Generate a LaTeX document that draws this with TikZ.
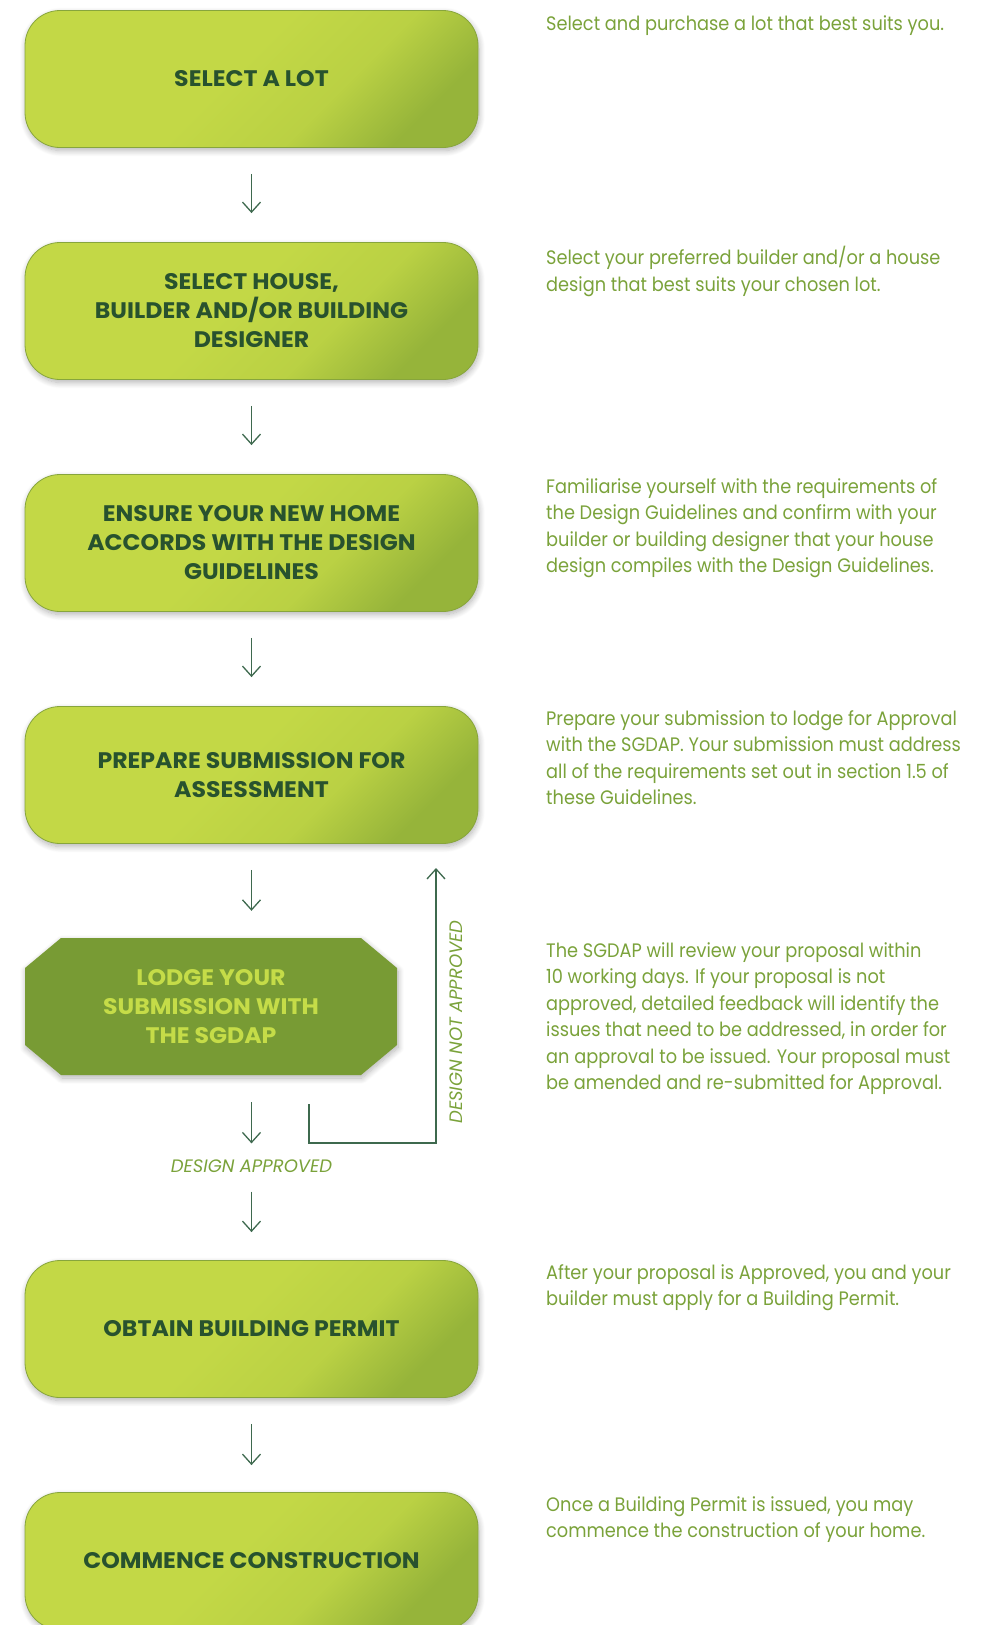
\documentclass[tikz,border=0pt]{standalone}
\usepackage{fontspec}
\setmainfont{Poppins}
\newfontfamily\notefont{Poppins}[FakeStretch=0.91]
\newfontfamily\stagefont{Poppins}[FakeStretch=1.05]
\usepackage{tikz}
\usetikzlibrary{arrows.meta}
\usetikzlibrary{shadows.blur}
\definecolor{limefill}{RGB}{195,216,70}
\definecolor{limedark}{RGB}{150,180,58}
\definecolor{stageline}{RGB}{135,165,60}
\definecolor{stagetext}{RGB}{40,82,46}
\definecolor{octfill}{RGB}{120,155,52}
\definecolor{octtext}{RGB}{197,220,72}
\definecolor{arrowgreen}{RGB}{62,105,78}
\definecolor{notegreen}{RGB}{122,162,58}
\pgfdeclarehorizontalshading{stageshade}{100bp}{color(0bp)=(limefill); color(25bp)=(limefill); color(47bp)=(limefill); color(62bp)=(limefill!80!limedark); color(75bp)=(limedark); color(100bp)=(limedark)}
\tikzstyle{stage}=[draw=stageline, line width=0.8pt, rounded corners=35pt, minimum width=453pt, minimum height=137pt, shading=stageshade, shading angle=-45, align=center, text=stagetext, font=\stagefont\fontsize{22.5}{29}\selectfont\bfseries, blur shadow={shadow xshift=1pt, shadow yshift=-3pt, shadow blur radius=6pt, shadow blur steps=10, shadow opacity=30}]
\tikzstyle{octstage}=[minimum width=372pt, minimum height=137pt, align=center, text=octtext, font=\stagefont\fontsize{22.5}{29}\selectfont\bfseries]
\tikzstyle{note}=[anchor=north west, align=left, inner sep=0pt, text=notegreen, font=\notefont\fontsize{19.5}{26.5}\selectfont]
\tikzstyle{decision}=[inner sep=0pt, text=notegreen, font=\fontsize{18}{22}\selectfont\itshape]
\tikzstyle{flow}=[draw=arrowgreen, line width=1.3pt, -{Straight Barb[length=10pt, width=18pt]}]

\begin{document}
\begin{tikzpicture}[x=1pt, y=-1pt]
        \useasboundingbox (0,0) rectangle (992,1625);
        % steps
        \node[stage] (lot) at (251.5,79) {SELECT A LOT};
        \node[stage] (house) at (251.5,311) {SELECT HOUSE,\\BUILDER AND/OR BUILDING\\DESIGNER};
        \node[stage] (ensure) at (251.5,543) {ENSURE YOUR NEW HOME\\ACCORDS WITH THE DESIGN\\GUIDELINES};
        \node[stage] (prepare) at (251.5,775) {PREPARE SUBMISSION FOR\\ASSESSMENT};
        \fill[octfill, blur shadow={shadow xshift=1pt, shadow yshift=-3pt, shadow blur radius=6pt, shadow blur steps=10, shadow opacity=30}] (61,938) -- (361,938) -- (397,968) -- (397,1045) -- (361,1075) -- (61,1075) -- (25,1045) -- (25,968) -- cycle;
        \node[octstage] (lodge) at (211,1006.5) {LODGE YOUR\\SUBMISSION WITH\\THE SGDAP};
        \node[stage] (permit) at (251.5,1329) {OBTAIN BUILDING PERMIT};
        \node[stage] (build) at (251.5,1561) {COMMENCE CONSTRUCTION};
        % notes
        \node[note] (lotnote) at (546,15) {Select and purchase a lot that best suits you.};
        \node[note] (housenote) at (546,246) {Select your preferred builder and/or a house\\design that best suits your chosen lot.};
        \node[note] (ensurenote) at (546,478) {Familiarise yourself with the requirements of\\the Design Guidelines and confirm with your\\builder or building designer that your house\\design compiles with the Design Guidelines.};
        \node[note] (preparenote) at (546,710) {Prepare your submission to lodge for Approval\\with the SGDAP. Your submission must address\\all of the requirements set out in section 1.5 of\\these Guidelines.};
        \node[note] (lodgenote) at (546,942) {The SGDAP will review your proposal within\\10 working days. If your proposal is not\\approved, detailed feedback will identify the\\issues that need to be addressed, in order for\\an approval to be issued. Your proposal must\\be amended and re-submitted for Approval.};
        \node[note] (permitnote) at (546,1264) {After your proposal is Approved, you and your\\builder must apply for a Building Permit.};
        \node[note] (buildnote) at (546,1496) {Once a Building Permit is issued, you may\\commence the construction of your home.};
        % arrows
        \draw[flow, shorten <=26pt, shorten >=29pt] (lot.south) -- (house.north);
        \draw[flow, shorten <=26pt, shorten >=29pt] (house.south) -- (ensure.north);
        \draw[flow, shorten <=26pt, shorten >=29pt] (ensure.south) -- (prepare.north);
        \draw[flow, shorten <=26pt, shorten >=27pt] (prepare.south) -- (prepare.south |- lodge.north);
        \node[decision] (approved) at (251.5,1166) {DESIGN APPROVED};
        \draw[flow, shorten <=27pt, shorten >=16pt] (lodge.south -| approved) -- (approved.north);
        \draw[flow, shorten <=19pt, shorten >=28pt] (approved.south) -- (permit.north);
        \draw[flow, shorten <=26pt, shorten >=27pt] (permit.south) -- (build.north);
        % not approved loop
        \coordinate (nostart) at (309,1104);
        \coordinate (nocorner) at (436,1143);
        \coordinate (noend) at (436,868);
        \draw[flow] (nostart) |- (nocorner) -- (noend);
        \node[decision, rotate=90] (notapproved) at (456,1022) {DESIGN NOT APPROVED};
    \end{tikzpicture}
\end{document}
